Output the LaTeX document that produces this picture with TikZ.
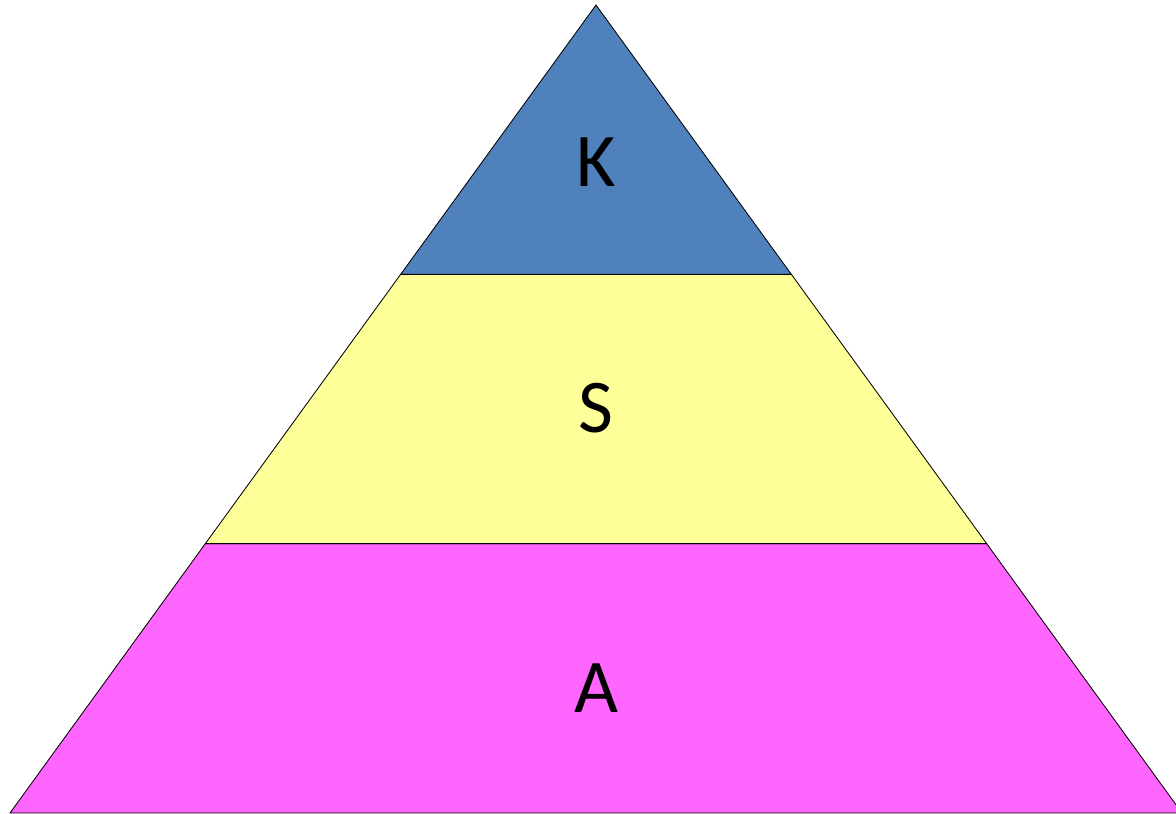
\documentclass[tikz,border=0pt]{standalone}
\usepackage{fontspec}
\setmainfont{Carlito}
\usetikzlibrary{calc}
\usepackage{xcolor}
\definecolor{ink}     {HTML}{000000}
\definecolor{tierblue}{HTML}{4F81BD}
\definecolor{tieryel} {HTML}{FFFF99}
\definecolor{tiermag} {HTML}{FF66FF}
\tikzset{
  tier/.style  = {draw=ink, line width=0.6pt, line join=miter},
  letter/.style = {font=\fontsize{54}{60}\selectfont, text=ink, anchor=base, inner sep=0pt},
}

\begin{document}
\begin{tikzpicture}[x=0.025cm, y=-0.025cm]

  \useasboundingbox (0,0) rectangle (1176,814);
  \clip (0,0) rectangle (1176,814);

  % --- corners of the pyramid ---
  \coordinate (top) at (596,5);
  \coordinate (bl)  at (10,813);
  \coordinate (br)  at (1182,813);

  % --- band edges, at one and two thirds ---
  \coordinate (l1) at ($(top)!1/3!(bl)$);
  \coordinate (r1) at ($(top)!1/3!(br)$);
  \coordinate (l2) at ($(top)!2/3!(bl)$);
  \coordinate (r2) at ($(top)!2/3!(br)$);

  % --- bands ---
  \draw[tier, fill=tiermag] (l2) -- (r2) -- (br) -- (bl) -- cycle;
  \draw[tier, fill=tieryel] (l1) -- (r1) -- (r2) -- (l2) -- cycle;
  \draw[tier, fill=tierblue] (top) -- (r1) -- (l1) -- cycle;

  % labels
  \node[letter] (know)  at (596,187) {K};
  \node[letter] (skill) at (596,432) {S};
  \node[letter] (att)   at (596,712) {A};

\end{tikzpicture}
\end{document}
